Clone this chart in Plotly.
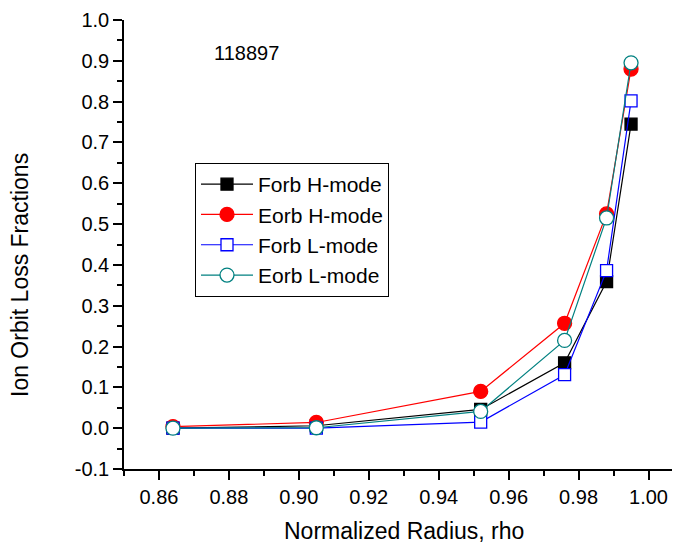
import plotly.graph_objects as go

rho = [0.864, 0.905, 0.952, 0.976, 0.988, 0.995]
forb_h = [0.000, 0.006, 0.046, 0.160, 0.359, 0.745]
eorb_h = [0.004, 0.014, 0.090, 0.257, 0.525, 0.880]
forb_l = [0.000, 0.000, 0.015, 0.131, 0.386, 0.802]
eorb_l = [0.000, 0.001, 0.041, 0.215, 0.515, 0.895]

names = ["Forb H-mode", "Eorb H-mode", "Forb L-mode", "Eorb L-mode"]
series = [forb_h, eorb_h, forb_l, eorb_l]
line_colors = ["#000000", "#ff0000", "#0000ff", "#008080"]
fill_colors = ["#000000", "#ff0000", "#ffffff", "#ffffff"]
symbols = ["square", "circle", "square", "circle"]
sizes = [12, 14, 12, 14]

x_ticks = [0.86, 0.88, 0.90, 0.92, 0.94, 0.96, 0.98, 1.00]
x_ticktext = ["0.86", "0.88", "0.90", "0.92", "0.94", "0.96", "0.98", "1.00"]
y_ticks = [-0.1, 0.0, 0.1, 0.2, 0.3, 0.4, 0.5, 0.6, 0.7, 0.8, 0.9, 1.0]
y_ticktext = ["-0.1", "0.0", "0.1", "0.2", "0.3", "0.4", "0.5", "0.6", "0.7", "0.8", "0.9", "1.0"]

FONT = "Arial, Liberation Sans, sans-serif"

# The page body has an 8px default margin, so the figure is 672x536 and offsets
# below are reference pixel positions minus 8.
fig = go.Figure()
for name, vals, lc, fc, sym, sz in zip(names, series, line_colors, fill_colors, symbols, sizes):
    fig.add_trace(go.Scatter(
        x=rho, y=vals, name=name, mode="lines+markers",
        line=dict(color=lc, width=1.2),
        marker=dict(symbol=sym, size=sz, color=fc, line=dict(color=lc, width=1.3)),
    ))

PL, PT, PW, PH = 116, 12, 556, 449


def px(xp):
    return (xp - 8 - PL) / PW


def py(yp):
    return (PT + PH - (yp - 8)) / PH


fig.update_layout(
    width=672, height=536,
    margin=dict(l=PL, r=0, t=PT, b=536 - PT - PH),
    paper_bgcolor="white", plot_bgcolor="white",
    font=dict(family=FONT, size=20, color="black"),
    showlegend=True,
    legend=dict(
        x=px(195), y=py(163), xanchor="left", yanchor="top",
        bgcolor="white", bordercolor="black", borderwidth=1,
        font=dict(family=FONT, size=21, color="black"),
        itemwidth=52,
    ),
    xaxis=dict(
        range=[0.85, 1.009], showgrid=False, zeroline=False,
        showline=True, linecolor="black", linewidth=1.5,
        ticks="outside", ticklen=9, tickwidth=1.5, tickcolor="black",
        tickvals=x_ticks, ticktext=x_ticktext,
        tickfont=dict(family=FONT, size=20, color="black"),
        minor=dict(ticks="outside", ticklen=5, tickwidth=1.5, tickcolor="black",
                   tick0=0.85, dtick=0.01),
    ),
    yaxis=dict(
        range=[-0.1, 1.0], showgrid=False, zeroline=False,
        showline=True, linecolor="black", linewidth=1.5,
        ticks="outside", ticklen=9, tickwidth=1.5, tickcolor="black",
        tickvals=y_ticks, ticktext=y_ticktext,
        tickfont=dict(family=FONT, size=20, color="black"),
        minor=dict(ticks="outside", ticklen=5, tickwidth=1.5, tickcolor="black",
                   tick0=-0.1, dtick=0.05),
    ),
    annotations=[
        dict(text="118897", xref="paper", yref="paper",
             x=px(246.7), y=py(52.7),
             xanchor="center", yanchor="middle", showarrow=False,
             font=dict(family=FONT, size=20, color="black")),
        dict(text="Normalized Radius, rho", xref="paper", yref="paper",
             x=px(404), y=py(531),
             xanchor="center", yanchor="middle", showarrow=False,
             font=dict(family=FONT, size=23, color="black")),
        dict(text="Ion Orbit Loss Fractions", xref="paper", yref="paper",
             x=px(20), y=py(275), textangle=-90,
             xanchor="center", yanchor="middle", showarrow=False,
             font=dict(family=FONT, size=23, color="black")),
    ],
)

fig.write_html("out.html")
